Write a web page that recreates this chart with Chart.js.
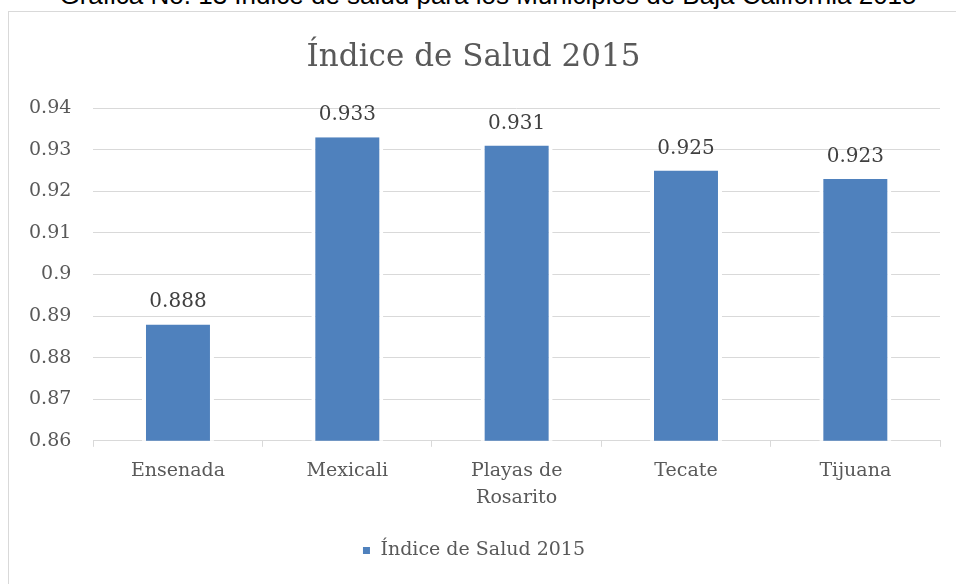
<!DOCTYPE html>
<html lang="es">
<head>
<meta charset="utf-8">
<title>Índice de Salud 2015</title>
<script src="https://cdn.jsdelivr.net/npm/chart.js@4.4.1/dist/chart.umd.min.js"></script>
<style>
  html, body { margin: 0; padding: 0; background: #fff; overflow: hidden; }
  #caption {
    position: absolute; left: 0; width: 976px; top: -20px;
    text-align: center; font: 26px "Liberation Sans", Arial, sans-serif; color: #000;
    white-space: nowrap;
  }
  #frame {
    position: absolute; left: 8px; top: 11px; width: 960px; height: 600px;
    border: 1px solid #d9d9d9; box-sizing: border-box; background: #fff;
  }
  #wrap { position: absolute; left: 0; top: 0; width: 956px; height: 584px; }
</style>
</head>
<body>
<div id="caption">Gráfica No. 13 Índice de salud para los Municipios de Baja California 2015</div>
<div id="frame"></div>
<div id="wrap"><canvas id="grafica"></canvas></div>
<script>
// Municipios y su índice de salud
var municipios = ['Ensenada', 'Mexicali', ['Playas de', 'Rosarito'], 'Tecate', 'Tijuana'];
var indiceSalud = [0.888, 0.933, 0.931, 0.925, 0.923];
var nombreSerie = 'Índice de Salud 2015';

var serif = '"DejaVu Serif", "Liberation Serif", serif';
var gris = '#595959';

// Etiquetas de valor encima de cada barra
var etiquetasValor = {
    id: 'etiquetasValor',
    afterDatasetsDraw: function (chart) {
        var ctx = chart.ctx;
        var meta = chart.getDatasetMeta(0);
        ctx.save();
        ctx.font = '20px ' + serif;
        ctx.fillStyle = '#404040';
        ctx.textAlign = 'center';
        ctx.textBaseline = 'alphabetic';
        meta.data.forEach(function (barra, i) {
            ctx.fillText(indiceSalud[i].toFixed(3), barra.x, barra.y - 17);
        });
        ctx.restore();
    }
};

var ctx = document.getElementById('grafica').getContext('2d');
var chart = new Chart(ctx, {
    type: 'bar',
    data: {
        labels: municipios,
        datasets: [{
            label: nombreSerie,
            data: indiceSalud,
            backgroundColor: '#4f81bd',
            borderColor: '#ffffff',
            borderWidth: { left: 4, right: 4, top: 0, bottom: 0 },
            borderSkipped: false,
            barPercentage: 0.425,
            categoryPercentage: 1
        }]
    },
    options: {
        responsive: true,
        maintainAspectRatio: false,
        animation: false,
        layout: { padding: { left: 7, right: 16, top: 20, bottom: 14 } },
        plugins: {
            title: {
                display: true,
                text: nombreSerie,
                color: gris,
                font: { family: serif, size: 31, weight: 'normal' },
                padding: { top: 19, bottom: 32 }
            },
            legend: {
                position: 'bottom',
                labels: {
                    color: gris,
                    boxWidth: 9,
                    boxHeight: 9,
                    padding: 19,
                    font: { family: serif, size: 19 }
                }
            },
            tooltip: { enabled: false }
        },
        scales: {
            x: {
                grid: {
                    offset: true,
                    drawOnChartArea: false,
                    drawTicks: true,
                    tickLength: 6,
                    color: '#d9d9d9'
                },
                border: { color: '#d9d9d9' },
                ticks: {
                    color: gris,
                    padding: 11,
                    maxRotation: 0,
                    font: { family: serif, size: 19, lineHeight: 1.4 }
                }
            },
            y: {
                min: 0.86,
                max: 0.94,
                grid: { color: '#d9d9d9', drawTicks: false },
                border: { display: false },
                ticks: {
                    stepSize: 0.01,
                    color: gris,
                    padding: 22,
                    font: { family: serif, size: 19 },
                    callback: function (v) { return String(+v.toFixed(2)); }
                }
            }
        }
    },
    plugins: [etiquetasValor]
});
</script>
</body>
</html>
